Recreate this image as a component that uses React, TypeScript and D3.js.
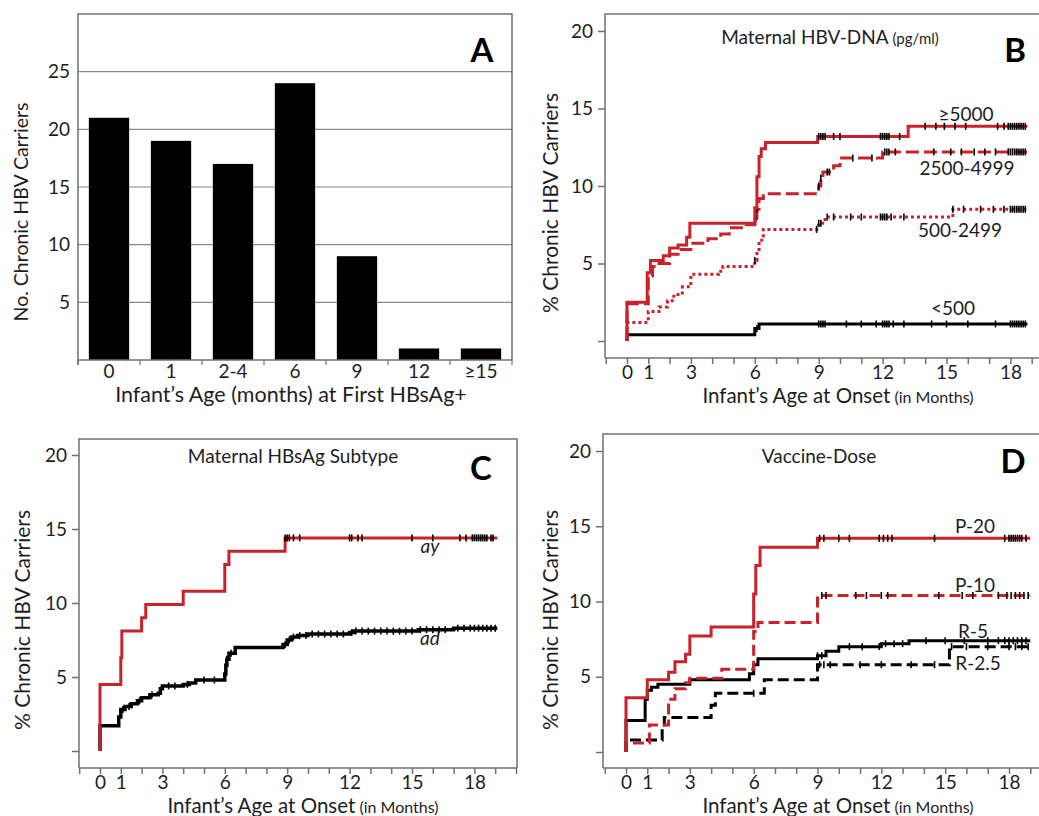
import React, { useEffect, useRef } from "react";
import * as d3 from "d3";

const RED = "#c8232b";
const INK = "#1e1e1e";
const FRAME = "#707070";
const FONT = "Lato, 'Open Sans', sans-serif";

// Panel A - carriers by age at first HBsAg+
const ageGroups = ["0", "1", "2-4", "6", "9", "12", "≥15"];
const carrierCounts = [21, 19, 17, 24, 9, 1, 1];
const countTicks = [5, 10, 15, 20, 25];

// survival panels, shared ticks
const pctTicks = [0, 5, 10, 15, 20];
const monthLabels = [0, 1, 3, 6, 9, 12, 15, 18];

// Panel B - maternal HBV-DNA (steps: [month, %])
const dnaHigh = [[0, 0], [0, 2.5], [0.95, 4.4], [1.1, 5.2], [1.7, 5.5], [2.0, 6.0], [2.4, 6.2], [2.8, 6.7], [2.95, 7.6], [6.0, 8.6], [6.1, 10.6], [6.2, 11.9], [6.3, 12.4], [6.5, 12.8], [8.95, 13.2], [13.2, 13.85]];
const dnaHighCens = [9.0, 9.1, 9.2, 9.3, 9.7, 10.0, 11.9, 12.0, 12.1, 12.2, 12.3, 12.8, 14.0, 14.5, 14.9, 15.4, 15.9, 17.4, 17.7, 17.9, 18.0, 18.1, 18.2, 18.3, 18.4, 18.5, 18.6, 18.7];
const dnaMid = [[0, 0], [0, 2.4], [1.0, 4.2], [1.2, 4.8], [1.5, 5.0], [2.0, 5.6], [2.4, 5.9], [3.0, 6.3], [3.8, 6.6], [4.4, 6.9], [4.8, 7.3], [5.6, 7.5], [6.0, 7.9], [6.1, 8.5], [6.2, 9.2], [6.4, 9.5], [9.0, 10.0], [9.1, 10.5], [9.2, 10.9], [9.7, 11.3], [10.0, 11.8], [12.0, 12.2]];
const dnaMidCens = [6.05, 6.1, 9.0, 9.1, 9.4, 9.5, 10.6, 11.5, 12.1, 12.2, 12.3, 12.6, 14.4, 15.2, 15.7, 16.3, 16.8, 17.3, 17.9, 18.0, 18.1, 18.2, 18.3, 18.4, 18.5, 18.6, 18.7];
const dnaLow = [[0, 0], [0, 1.2], [1.0, 1.9], [1.5, 2.2], [1.9, 2.6], [2.2, 3.0], [2.6, 3.5], [3.0, 4.3], [4.3, 4.5], [4.5, 4.8], [6.0, 5.2], [6.1, 5.8], [6.2, 6.5], [6.4, 7.2], [9.0, 7.6], [9.3, 8.0]];
const dnaLowCens = [6.0, 8.9, 9.0, 9.1, 9.4, 9.7, 10.5, 11.0, 11.9, 12.0, 12.1, 12.2, 12.4, 13.0, 15.3, 15.8, 16.6, 17.2, 17.7, 18.0, 18.1, 18.2, 18.3, 18.4, 18.5, 18.6, 18.7];
const dnaLowTail = [[15.3, 8.5]];
const dnaNone = [[0, 0], [0, 0.4], [6.0, 0.8], [6.2, 1.1]];
const dnaNoneCens = [6.1, 9.0, 9.1, 9.2, 9.3, 10.3, 11.0, 11.7, 12.0, 12.1, 12.2, 12.3, 12.5, 13.0, 14.3, 15.0, 16.0, 17.3, 18.0, 18.1, 18.2, 18.3, 18.4, 18.5, 18.6, 18.7];

// Panel C - maternal HBsAg subtype
const subAy = [[0, 0], [0, 4.5], [1.0, 6.3], [1.05, 8.1], [2.0, 9.0], [2.2, 9.9], [4.0, 10.8], [6.0, 12.6], [6.2, 13.5], [8.9, 14.4]];
const subAyCens = [8.9, 9.0, 9.1, 9.3, 9.6, 12.0, 12.1, 12.4, 12.6, 15.0, 16.0, 17.3, 17.6, 17.9, 18.0, 18.1, 18.2, 18.3, 18.4, 18.5, 18.6, 18.8, 18.9];
const subAd = [[0, 0], [0, 1.7], [0.9, 2.3], [1.0, 2.8], [1.2, 3.0], [1.5, 3.2], [1.8, 3.4], [2.0, 3.6], [2.4, 3.8], [2.8, 3.9], [2.9, 4.2], [3.0, 4.4], [4.0, 4.5], [4.3, 4.6], [4.6, 4.8], [6.0, 5.2], [6.05, 5.8], [6.1, 6.2], [6.2, 6.6], [6.5, 7.0], [8.8, 7.2], [9.0, 7.5], [9.2, 7.7], [9.5, 7.8], [10.0, 7.9], [12.0, 8.0], [12.2, 8.1], [15.3, 8.2], [17.0, 8.3]];
const subAdCens = [1.1, 1.4, 1.9, 2.5, 3.3, 3.6, 4.2, 5.0, 5.5, 6.1, 6.3, 8.9, 9.1, 9.3, 9.6, 9.9, 10.2, 10.5, 10.8, 11.1, 11.4, 11.7, 12.1, 12.3, 12.6, 12.9, 13.2, 13.5, 13.8, 14.1, 14.4, 14.7, 15.0, 15.4, 15.7, 16.0, 16.3, 16.6, 17.2, 17.5, 17.8, 18.0, 18.2, 18.4, 18.6, 18.8, 19.0];

// Panel D - vaccine dose
const doseP20 = [[0, 0], [0, 3.6], [1.0, 4.8], [2.0, 5.3], [2.3, 6.0], [2.8, 6.5], [3.0, 7.7], [4.0, 8.3], [6.0, 10.5], [6.1, 12.4], [6.3, 13.6], [9.0, 14.2]];
const doseP20Cens = [9.1, 9.3, 10.0, 10.5, 11.9, 12.1, 12.3, 12.5, 14.5, 17.8, 18.0, 18.1, 18.2, 18.3, 18.4, 18.5, 18.6, 18.8];
const doseP10 = [[0, 0], [0, 0.6], [1.1, 1.8], [2.0, 3.5], [2.3, 4.2], [2.8, 4.6], [3.0, 4.9], [4.5, 5.5], [6.0, 8.0], [6.2, 8.6], [9.0, 10.4]];
const doseP10Cens = [9.2, 9.4, 10.8, 11.3, 12.0, 12.3, 14.7, 15.8, 16.3, 17.5, 17.9, 18.1, 18.3, 18.5, 18.7, 18.9];
const doseR5 = [[0, 0], [0, 2.1], [0.9, 3.5], [1.0, 4.1], [1.2, 4.3], [1.5, 4.5], [3.0, 4.8], [5.8, 5.2], [6.0, 5.8], [6.2, 6.2], [9.0, 6.4], [9.4, 6.7], [10.0, 7.0], [12.0, 7.2], [13.3, 7.4]];
const doseR5Cens = [9.0, 9.2, 10.5, 11.1, 11.9, 12.2, 12.6, 13.0, 14.1, 15.0, 15.9, 17.0, 17.5, 17.8, 18.0, 18.2, 18.4, 18.6, 18.8];
const doseR25 = [[0, 0], [0, 0.8], [1.7, 1.8], [1.8, 2.3], [4.0, 3.1], [4.2, 3.9], [6.5, 4.8], [9.0, 5.8], [15.2, 7.0]];
const doseR25Cens = [6.0, 9.1, 9.3, 9.6, 11.0, 12.0, 13.4, 14.5, 15.3, 16.0, 17.0, 18.0, 18.3, 18.6, 18.9];

const valueAt = (steps, t) => {
  let v = 0;
  steps.forEach(([st, sv]) => {
    if (st <= t) v = sv;
  });
  return v;
};

const drawBars = (svg) => {
  const left = 78, right = 512, top = 14, bottom = 360;
  const g = svg.append("g");
  const x = d3.scaleBand().domain(ageGroups).range([left, right]).paddingInner(0.35).paddingOuter(0.175);
  const y = d3.scaleLinear().domain([0, 30]).range([bottom, top]);

  // gridlines
  g.selectAll(".grid")
    .data(countTicks)
    .enter()
    .append("line")
    .attr("x1", left)
    .attr("x2", right)
    .attr("y1", (d) => y(d))
    .attr("y2", (d) => y(d))
    .attr("stroke", "#8a8a8a")
    .attr("stroke-width", 1.2);

  g.selectAll(".ylab")
    .data(countTicks)
    .enter()
    .append("text")
    .attr("x", left - 8)
    .attr("y", (d) => y(d))
    .attr("dy", "0.35em")
    .attr("text-anchor", "end")
    .attr("font-size", 19)
    .attr("fill", INK)
    .text((d) => d);

  g.selectAll(".bar")
    .data(carrierCounts)
    .enter()
    .append("rect")
    .attr("x", (d, i) => x(ageGroups[i]))
    .attr("width", x.bandwidth())
    .attr("y", (d) => y(d))
    .attr("height", (d) => bottom - y(d))
    .attr("fill", "#000");

  // frame
  g.append("path")
    .attr("d", `M${left},${bottom + 5}V${top}H${right}V${bottom}`)
    .attr("fill", "none")
    .attr("stroke", FRAME)
    .attr("stroke-width", 1.5);
  g.append("line")
    .attr("x1", left).attr("x2", right)
    .attr("y1", bottom).attr("y2", bottom)
    .attr("stroke", FRAME).attr("stroke-width", 1.5);

  // ticks at band edges
  const edges = d3.range(ageGroups.length + 1).map((i) => left + (i * (right - left)) / ageGroups.length);
  g.selectAll(".xt")
    .data(edges)
    .enter()
    .append("line")
    .attr("x1", (d) => d).attr("x2", (d) => d)
    .attr("y1", bottom).attr("y2", bottom + 5)
    .attr("stroke", FRAME).attr("stroke-width", 1.2);

  g.selectAll(".xlab")
    .data(ageGroups)
    .enter()
    .append("text")
    .attr("x", (d) => x(d) + x.bandwidth() / 2)
    .attr("y", 378)
    .attr("text-anchor", "middle")
    .attr("font-size", 19)
    .attr("fill", INK)
    .text((d) => d);

  g.append("text")
    .attr("x", 291).attr("y", 402)
    .attr("text-anchor", "middle")
    .attr("font-size", 21.5)
    .attr("fill", INK)
    .text("Infant’s Age (months) at First HBsAg+");

  g.append("text")
    .attr("transform", "translate(28,212) rotate(-90)")
    .attr("text-anchor", "middle")
    .attr("font-size", 19.5)
    .attr("fill", INK)
    .text("No. Chronic HBV Carriers");

  g.append("text")
    .attr("x", 482).attr("y", 62)
    .attr("text-anchor", "middle")
    .attr("font-size", 33)
    .attr("font-weight", 700)
    .attr("fill", "#000")
    .text("A");
};

const drawSurvival = (svg, p) => {
  const g = svg.append("g");
  const x = d3.scaleLinear().domain([0, 18]).range([p.x0, p.x18]);
  const y = d3.scaleLinear().domain([0, 20]).range([p.y0, p.y20]);

  // frame
  g.append("path")
    .attr("d", `M${p.left},${p.axisY}V${p.top}H${p.right}` + (p.closed ? `V${p.axisY}` : ""))
    .attr("fill", "none")
    .attr("stroke", FRAME)
    .attr("stroke-width", 1.5);
  g.append("line")
    .attr("x1", p.left).attr("x2", p.right)
    .attr("y1", p.axisY).attr("y2", p.axisY)
    .attr("stroke", FRAME).attr("stroke-width", 1.5);

  // month ticks
  const xAxis = d3
    .axisBottom(x)
    .tickValues(d3.range(-1, p.lastTick + 1))
    .tickSize(6)
    .tickPadding(2)
    .tickFormat((d) => (monthLabels.includes(d) ? String(d) : ""));
  const xa = g.append("g").attr("transform", `translate(0,${p.axisY})`).call(xAxis);
  xa.select(".domain").remove();
  xa.selectAll("line").attr("stroke", FRAME).attr("stroke-width", 1.5);
  xa.selectAll("text").attr("font-size", 19).attr("font-family", FONT).attr("fill", INK);

  const yAxis = d3
    .axisLeft(y)
    .tickValues(pctTicks)
    .tickSize(7)
    .tickPadding(5)
    .tickFormat((d) => (d === 0 ? "" : String(d)));
  const ya = g.append("g").attr("transform", `translate(${p.left},0)`).call(yAxis);
  ya.select(".domain").remove();
  ya.selectAll("line").attr("stroke", FRAME).attr("stroke-width", 1.5);
  ya.selectAll("text").attr("font-size", 19).attr("font-family", FONT).attr("fill", INK);

  const line = d3
    .line()
    .x((d) => x(d[0]))
    .y((d) => y(d[1]))
    .curve(d3.curveStepAfter);

  p.series.forEach((s) => {
    const pts = s.steps.concat([[p.end, s.steps[s.steps.length - 1][1]]]);
    g.append("path")
      .attr("d", line(pts))
      .attr("fill", "none")
      .attr("stroke", s.color)
      .attr("stroke-width", s.width || 3)
      .attr("stroke-dasharray", s.dash || null);
    g.selectAll(null)
      .data(s.cens)
      .enter()
      .append("line")
      .attr("x1", (t) => x(t)).attr("x2", (t) => x(t))
      .attr("y1", (t) => y(valueAt(s.steps, t)) - 3.5)
      .attr("y2", (t) => y(valueAt(s.steps, t)) + 3.5)
      .attr("stroke", "#000")
      .attr("stroke-width", 1.6);
  });

  p.labels.forEach((l) => {
    g.append("text")
      .attr("x", l.x).attr("y", l.y)
      .attr("text-anchor", "middle")
      .attr("font-size", 19)
      .attr("font-style", l.italic ? "italic" : "normal")
      .attr("fill", INK)
      .text(l.text);
  });

  const title = g.append("text")
    .attr("x", p.titleX).attr("y", p.titleY)
    .attr("text-anchor", "middle")
    .attr("font-size", 19)
    .attr("fill", INK)
    .text(p.title);
  if (p.titleNote) title.append("tspan").attr("font-size", 15).text(" " + p.titleNote);

  const xt = g.append("text")
    .attr("x", p.xTitleX).attr("y", p.xTitleY)
    .attr("text-anchor", "middle")
    .attr("font-size", 20.5)
    .attr("fill", INK)
    .text("Infant’s Age at Onset");
  xt.append("tspan").attr("font-size", 16).text(" (in Months)");

  g.append("text")
    .attr("transform", `translate(${p.yTitleX},${p.yTitleY}) rotate(-90)`)
    .attr("text-anchor", "middle")
    .attr("font-size", 21)
    .attr("fill", INK)
    .text("% Chronic HBV Carriers");

  g.append("text")
    .attr("x", p.letterX).attr("y", p.letterY)
    .attr("text-anchor", "middle")
    .attr("font-size", 33)
    .attr("font-weight", 700)
    .attr("fill", "#000")
    .text(p.letter);
};

export default function App() {
  const ref = useRef(null);

  useEffect(() => {
    const svg = d3.select(ref.current);
    svg.selectAll("*").remove();
    svg.attr("font-family", FONT);

    drawBars(svg);

    drawSurvival(svg, {
      left: 605, top: 14, right: 1039, axisY: 358, closed: false,
      x0: 627, x18: 1010.4, y0: 341, y20: 31, lastTick: 19, end: 18.8,
      title: "Maternal HBV-DNA", titleNote: "(pg/ml)", titleX: 830, titleY: 44,
      letter: "B", letterX: 1015, letterY: 62,
      xTitleX: 838, xTitleY: 403, yTitleX: 558, yTitleY: 203,
      series: [
        { steps: dnaNone, cens: dnaNoneCens, color: "#000" },
        { steps: dnaLow.concat(dnaLowTail), cens: dnaLowCens, color: RED, dash: "3,3" },
        { steps: dnaMid, cens: dnaMidCens, color: RED, dash: "13,5" },
        { steps: dnaHigh, cens: dnaHighCens, color: RED },
      ],
      labels: [
        { text: "≥5000", x: 966, y: 121 },
        { text: "2500-4999", x: 967, y: 175 },
        { text: "500-2499", x: 960, y: 237 },
        { text: "<500", x: 953, y: 315 },
      ],
    });

    drawSurvival(svg, {
      left: 79, top: 439, right: 517, axisY: 768, closed: true,
      x0: 100, x18: 474.4, y0: 751, y20: 455, lastTick: 20, end: 19.1,
      title: "Maternal HBsAg Subtype", titleX: 293, titleY: 463,
      letter: "C", letterX: 481, letterY: 480,
      xTitleX: 303, xTitleY: 813, yTitleX: 30, yTitleY: 620,
      series: [
        { steps: subAd, cens: subAdCens, color: "#000", width: 3.5 },
        { steps: subAy, cens: subAyCens, color: RED },
      ],
      labels: [
        { text: "ay", x: 430, y: 553, italic: true },
        { text: "ad", x: 430, y: 645, italic: true },
      ],
    });

    drawSurvival(svg, {
      left: 603, top: 434, right: 1039, axisY: 768, closed: false,
      x0: 626, x18: 1009, y0: 752, y20: 451, lastTick: 19, end: 19.0,
      title: "Vaccine-Dose", titleX: 819, titleY: 463,
      letter: "D", letterX: 1013, letterY: 473,
      xTitleX: 838, xTitleY: 813, yTitleX: 558, yTitleY: 620,
      series: [
        { steps: doseR25, cens: doseR25Cens, color: "#000", dash: "11,5" },
        { steps: doseR5, cens: doseR5Cens, color: "#000" },
        { steps: doseP10, cens: doseP10Cens, color: RED, dash: "11,5" },
        { steps: doseP20, cens: doseP20Cens, color: RED },
      ],
      labels: [
        { text: "P-20", x: 975, y: 533 },
        { text: "P-10", x: 975, y: 592 },
        { text: "R-5", x: 973, y: 638 },
        { text: "R-2.5", x: 978, y: 670 },
      ],
    });
  }, []);

  return (
    <svg
      ref={ref}
      width={1039}
      height={816}
      style={{ position: "absolute", left: 0, top: 0, background: "#fff" }}
    />
  );
}
